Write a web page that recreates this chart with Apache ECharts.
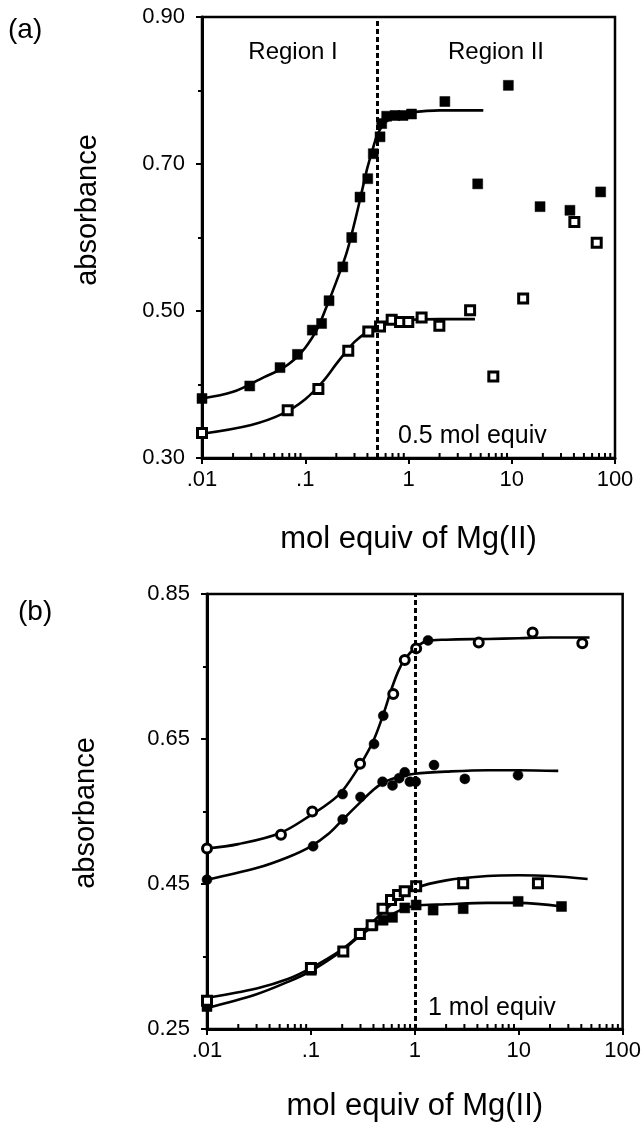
<!DOCTYPE html>
<html><head><meta charset="utf-8">
<script src="https://cdn.jsdelivr.net/npm/echarts@6/dist/echarts.min.js"></script>
<style>html,body{margin:0;padding:0;background:#fff}#c{width:644px;height:1131px}</style>
</head><body><div id="c"></div>
<script>
// ---------- tick labels ----------
const xTickLabels = ['.01', '.1', '1', '10', '100'];
const xMinorTicks = [0.02,0.03,0.04,0.05,0.06,0.07,0.08,0.09,
                     0.2,0.3,0.4,0.5,0.6,0.7,0.8,0.9,
                     2,3,4,5,6,7,8,9,
                     20,30,40,50,60,70,80,90];

// ---------- panel (a) ----------
const aFilledX = [0.01,0.029,0.057,0.084,0.117,0.144,0.170,0.231,0.282,0.339,0.403,0.456,0.530,0.550,0.615,0.74,0.885,1.07,2.25,4.68,9.27,18.8,36.6,72.6];
const aFilledY = [0.381,0.398,0.423,0.441,0.474,0.483,0.514,0.560,0.600,0.655,0.680,0.714,0.737,0.755,0.765,0.766,0.766,0.768,0.785,0.673,0.807,0.642,0.637,0.662];
const aOpenX = [0.01,0.0676,0.134,0.261,0.408,0.530,0.687,0.828,0.995,1.34,1.99,3.95,6.63,12.9,40.4,66.5];
const aOpenY = [0.334,0.365,0.394,0.446,0.472,0.479,0.488,0.485,0.485,0.491,0.480,0.501,0.411,0.517,0.621,0.593];
const aFilledFitX = [0.01,0.02,0.04,0.06,0.08,0.1,0.13,0.16,0.2,0.25,0.3,0.35,0.4,0.45,0.5,0.6,0.8,1,2,5.3];
const aFilledFitY = [0.381,0.390,0.410,0.422,0.435,0.450,0.475,0.505,0.540,0.578,0.620,0.660,0.695,0.720,0.740,0.757,0.767,0.770,0.773,0.773];
const aOpenFitX = [0.01,0.03,0.06,0.1,0.15,0.2,0.25,0.3,0.4,0.5,0.7,1,2,4.4];
const aOpenFitY = [0.333,0.345,0.360,0.380,0.405,0.428,0.445,0.458,0.472,0.480,0.486,0.488,0.489,0.489];
const aEquivLine = 0.5;

// ---------- panel (b) ----------
const bTopOpenX = [0.01,0.0515,0.103,0.297,0.62,0.80,1.03,4.12,13.6,40.9];
const bTopOpenY = [0.499,0.518,0.550,0.616,0.712,0.759,0.775,0.783,0.797,0.782];
const bTopFilledX = [0.202,0.405,0.497,1.34];
const bTopFilledY = [0.574,0.643,0.682,0.786];
const bMidFilledX = [0.01,0.105,0.202,0.30,0.489,0.61,0.707,0.80,0.896,1.02,1.53,3.03,9.84];
const bMidFilledY = [0.456,0.502,0.539,0.570,0.591,0.586,0.596,0.604,0.591,0.591,0.614,0.595,0.600];
const bLowOpenX = [0.01,0.10,0.205,0.296,0.384,0.489,0.59,0.69,0.80,1.03,2.92,15.3];
const bLowOpenY = [0.289,0.334,0.357,0.381,0.393,0.416,0.428,0.435,0.440,0.447,0.451,0.451];
const bLowFilledX = [0.01,0.101,0.205,0.296,0.396,0.495,0.61,0.80,1.03,1.5,2.92,9.87,25.8];
const bLowFilledY = [0.281,0.331,0.357,0.382,0.393,0.400,0.404,0.417,0.421,0.414,0.416,0.426,0.419];
const bTopFitX = [0.01,0.02,0.05,0.1,0.15,0.2,0.3,0.4,0.5,0.6,0.7,0.8,1,1.3,2,5,10,20,48];
const bTopFitY = [0.499,0.505,0.520,0.545,0.562,0.578,0.615,0.648,0.685,0.720,0.745,0.760,0.775,0.785,0.787,0.788,0.789,0.790,0.790];
const bMidFitX = [0.01,0.03,0.06,0.1,0.15,0.2,0.3,0.4,0.5,0.7,1,2,5,10,24];
const bMidFitY = [0.456,0.472,0.487,0.502,0.520,0.538,0.563,0.580,0.590,0.598,0.602,0.605,0.607,0.607,0.606];
const bLowOpenFitX = [0.01,0.03,0.06,0.1,0.2,0.3,0.5,0.7,1,2,5,10,20,46];
const bLowOpenFitY = [0.293,0.306,0.319,0.334,0.360,0.381,0.412,0.430,0.444,0.455,0.461,0.462,0.461,0.457];
const bLowFilledFitX = [0.01,0.03,0.06,0.1,0.2,0.3,0.5,0.7,1,2,5,10,26];
const bLowFilledFitY = [0.279,0.298,0.315,0.330,0.358,0.379,0.401,0.413,0.420,0.422,0.424,0.424,0.419];
const bEquivLine = 1;

// ---------- build ----------
const zip = (xs, ys) => xs.map((x, i) => [x, ys[i]]);
const FONT = "'Liberation Sans', Arial, Helvetica, sans-serif";
const BLACK = '#000';

function xAxisDef(gi, gap) {
  return {
    type: 'log', logBase: 10, gridIndex: gi, min: 0.01, max: 100,
    axisLine: { show: true, lineStyle: { color: BLACK, width: 3 } },
    axisTick: { show: true, length: 6, lineStyle: { color: BLACK, width: 2 } },
    splitLine: { show: false },
    axisLabel: {
      color: BLACK, fontSize: 22, fontFamily: FONT, margin: 11,
      formatter: v => xTickLabels[Math.round(Math.log10(v)) + 2]
    },
    name: 'mol equiv of Mg(II)', nameLocation: 'middle', nameGap: gap,
    nameTextStyle: { color: BLACK, fontSize: 31, fontFamily: FONT }
  };
}
function yAxisDef(gi, min, max) {
  return {
    type: 'value', gridIndex: gi, min: min, max: max, interval: 0.2,
    axisLine: { show: true, lineStyle: { color: BLACK, width: 3 } },
    axisTick: { show: true, length: 6, lineStyle: { color: BLACK, width: 2 } },
    minorTick: { show: true, splitNumber: 2, length: 4, lineStyle: { color: BLACK, width: 2 } },
    splitLine: { show: false },
    axisLabel: { color: BLACK, fontSize: 22, fontFamily: FONT, margin: 17, formatter: v => v.toFixed(2) }
  };
}
function fit(xs, ys, ai, mark) {
  const s = {
    type: 'line', xAxisIndex: ai, yAxisIndex: ai, data: zip(xs, ys),
    smooth: 0.35, showSymbol: false, symbol: 'none', silent: true, z: 2,
    lineStyle: { color: BLACK, width: 2.6 }
  };
  if (mark !== undefined) {
    s.markLine = {
      silent: true, symbol: 'none', label: { show: false },
      lineStyle: { color: BLACK, width: 3, type: [5, 3] },
      data: [{ xAxis: mark }]
    };
  }
  return s;
}
function pts(xs, ys, ai, shape, filled, size) {
  return {
    type: 'scatter', xAxisIndex: ai, yAxisIndex: ai, data: zip(xs, ys),
    symbol: shape, symbolSize: size, z: 4,
    itemStyle: filled ? { color: BLACK, borderColor: BLACK, borderWidth: 0.5, opacity: 1 }
                      : { color: '#fff', borderColor: BLACK, borderWidth: 3, opacity: 1 }
  };
}
function minorTicks(ai, ymin) {
  return {
    type: 'scatter', xAxisIndex: ai, yAxisIndex: ai, silent: true, clip: false, z: 5,
    data: xMinorTicks.map(v => [v, ymin]),
    symbol: 'rect', symbolSize: [2, 5], symbolOffset: [0, -2.5],
    itemStyle: { color: BLACK, opacity: 1 }
  };
}
function txt(text, x, y, size, align, rot) {
  return { type: 'text', x: x, y: y, rotation: rot || 0,
    style: { text: text, font: size + 'px ' + FONT, fill: BLACK, align: align, verticalAlign: 'middle' } };
}

const option = {
  animation: false,
  backgroundColor: '#fff',
  textStyle: { fontFamily: FONT },
  grid: [
    { left: 202, top: 17, width: 413, height: 441, show: true, borderColor: BLACK, borderWidth: 2.5, backgroundColor: 'transparent' },
    { left: 207, top: 594, width: 416, height: 435, show: true, borderColor: BLACK, borderWidth: 2.5, backgroundColor: 'transparent' }
  ],
  xAxis: [xAxisDef(0, 66), xAxisDef(1, 62)],
  yAxis: [yAxisDef(0, 0.30, 0.90), yAxisDef(1, 0.25, 0.85)],
  series: [
    fit(aFilledFitX, aFilledFitY, 0, aEquivLine),
    fit(aOpenFitX, aOpenFitY, 0),
    pts(aFilledX, aFilledY, 0, 'rect', true, 10),
    pts(aOpenX, aOpenY, 0, 'rect', false, 9),
    minorTicks(0, 0.30),
    fit(bTopFitX, bTopFitY, 1, bEquivLine),
    fit(bMidFitX, bMidFitY, 1),
    fit(bLowOpenFitX, bLowOpenFitY, 1),
    fit(bLowFilledFitX, bLowFilledFitY, 1),
    pts(bTopOpenX, bTopOpenY, 1, 'circle', false, 9),
    pts(bTopFilledX, bTopFilledY, 1, 'circle', true, 10),
    pts(bMidFilledX, bMidFilledY, 1, 'circle', true, 10),
    pts(bLowFilledX, bLowFilledY, 1, 'rect', true, 10),
    pts(bLowOpenX, bLowOpenY, 1, 'rect', false, 9),
    minorTicks(1, 0.25)
  ],
  graphic: [
    txt('(a)', 8, 30, 28, 'left'),
    txt('(b)', 18, 612, 28, 'left'),
    txt('absorbance', 88, 210, 29, 'center', Math.PI / 2),
    txt('absorbance', 86, 813, 29, 'center', Math.PI / 2),
    txt('Region I', 293, 52, 24, 'center'),
    txt('Region II', 496, 52, 24, 'center'),
    txt('0.5 mol equiv', 398, 436, 25, 'left'),
    txt('1 mol equiv', 428, 1008, 25, 'left')
  ]
};
const chart = echarts.init(document.getElementById('c'), null, { renderer: 'canvas' });
chart.setOption(option);
</script>
</body></html>
